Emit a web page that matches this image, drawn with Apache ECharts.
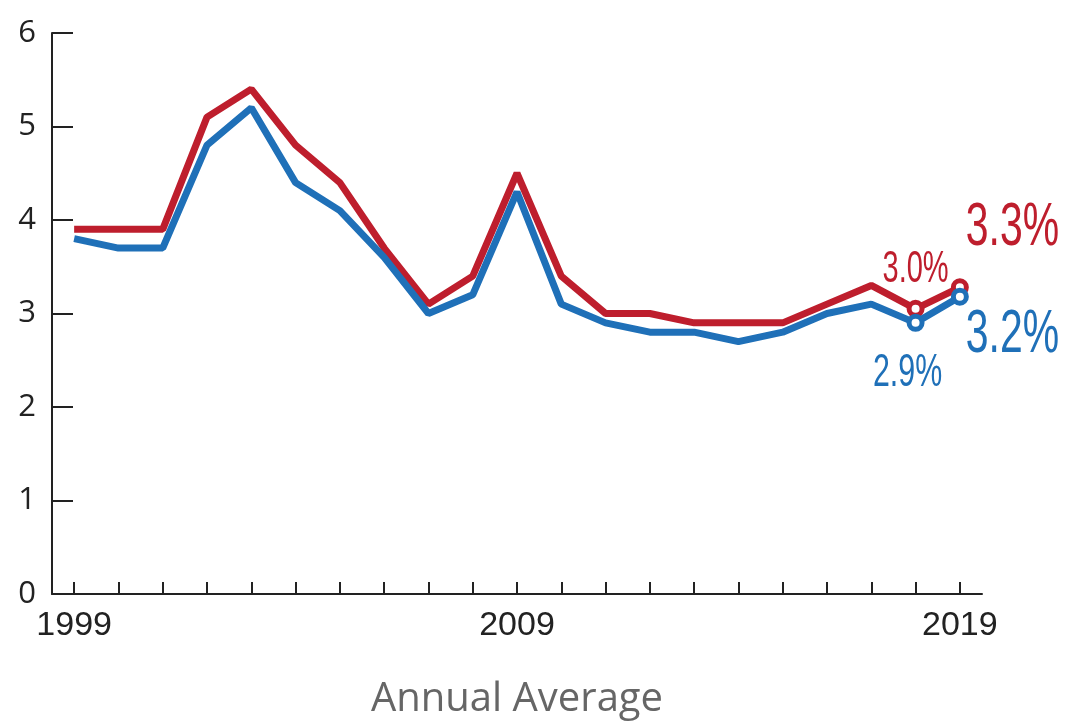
<!DOCTYPE html>
<html><head><meta charset="utf-8">
<script src="https://cdn.jsdelivr.net/npm/echarts@6/dist/echarts.min.js"></script>
<style>html,body{margin:0;padding:0;background:#fff}#c{width:1089px;height:724px}</style>
</head><body><div id="c"></div>
<script>
const years = ['1999','2000','2001','2002','2003','2004','2005','2006','2007','2008','2009','2010','2011','2012','2013','2014','2015','2016','2017','2018','2019'];
const redValues = [3.9,3.9,3.9,5.1,5.4,4.8,4.4,3.7,3.1,3.4,4.5,3.4,3.0,3.0,2.9,2.9,2.9,3.1,3.3,3.05,3.28];
const blueValues = [3.8,3.7,3.7,4.8,5.2,4.4,4.1,3.6,3.0,3.2,4.3,3.1,2.9,2.8,2.8,2.7,2.8,3.0,3.1,2.9,3.18];
const redLabels = {19:'3.0%', 20:'3.3%'};
const blueLabels = {19:'2.9%', 20:'3.2%'};
const yTicks = [0,1,2,3,4,5,6];

const RED = '#be1e2d', BLUE = '#1f70b8';
const SANS = '"Liberation Sans", Arial, sans-serif';

function build(values, labels, color) {
  return values.map((v, i) => {
    if (labels[i] === undefined) return {value: v, symbol: 'none'};
    return {
      value: v, symbol: 'circle', symbolSize: 13,
      itemStyle: {color: '#fff', borderColor: color, borderWidth: 5}
    };
  });
}

const chart = echarts.init(document.getElementById('c'));
chart.setOption({
  animation: false,
  grid: {left: 52, right: 107, top: 33, bottom: 130, containLabel: false, outerBoundsMode: 'none'},
  xAxis: {
    type: 'category', data: years, boundaryGap: true,
    axisLine: {lineStyle: {color: '#222', width: 2}},
    axisTick: {show: true, inside: true, length: 12, alignWithLabel: true, interval: 0, lineStyle: {color: '#222', width: 2}},
    axisLabel: {interval: 9, color: '#222', fontFamily: SANS, fontSize: 34, margin: 15},
    name: 'Annual Average', nameLocation: 'middle', nameGap: 86,
    nameTextStyle: {color: '#666', fontFamily: '"Open Sans", sans-serif', fontSize: 40}
  },
  yAxis: {
    type: 'value', min: 0, max: 6, interval: 1,
    splitLine: {show: false},
    axisLine: {show: true, lineStyle: {color: '#222', width: 2}},
    axisTick: {show: true, inside: true, length: 21, lineStyle: {color: '#222', width: 2}},
    axisLabel: {color: '#222', fontFamily: '"Open Sans", sans-serif', fontSize: 31, margin: 16,
      formatter: v => yTicks.includes(v) ? String(v) : ''}
  },
  series: [
    {type: 'line', name: 'red', z: 2, lineStyle: {color: RED, width: 7}, itemStyle: {color: RED},
     showSymbol: true, data: build(redValues, redLabels, RED)},
    {type: 'line', name: 'blue', z: 3, lineStyle: {color: BLUE, width: 7}, itemStyle: {color: BLUE},
     showSymbol: true, data: build(blueValues, blueLabels, BLUE)}
  ]
});

// Condensed value labels anchored to data points through the chart's scales
const labelSpec = [
  {text: redLabels[19], idx: 19, val: redValues[19], color: RED, size: 44, dx: 0, dy: -39, align: 'center'},
  {text: redLabels[20], idx: 20, val: redValues[20], color: RED, size: 62, dx: 6, dy: -59, align: 'left'},
  {text: blueLabels[19], idx: 19, val: blueValues[19], color: BLUE, size: 46, dx: -8, dy: 50, align: 'center'},
  {text: blueLabels[20], idx: 20, val: blueValues[20], color: BLUE, size: 62, dx: 6, dy: 38, align: 'left'}
];
const graphics = labelSpec.map(s => {
  const p = chart.convertToPixel({gridIndex: 0}, [years[s.idx], s.val]);
  return {
    type: 'text', x: p[0] + s.dx, y: p[1] + s.dy, scaleX: 0.66, z: 10,
    style: {text: s.text, fill: s.color, font: 'normal ' + s.size + 'px ' + SANS,
      textAlign: s.align, textVerticalAlign: 'middle'}
  };
});
chart.setOption({graphic: graphics});
</script></body></html>
